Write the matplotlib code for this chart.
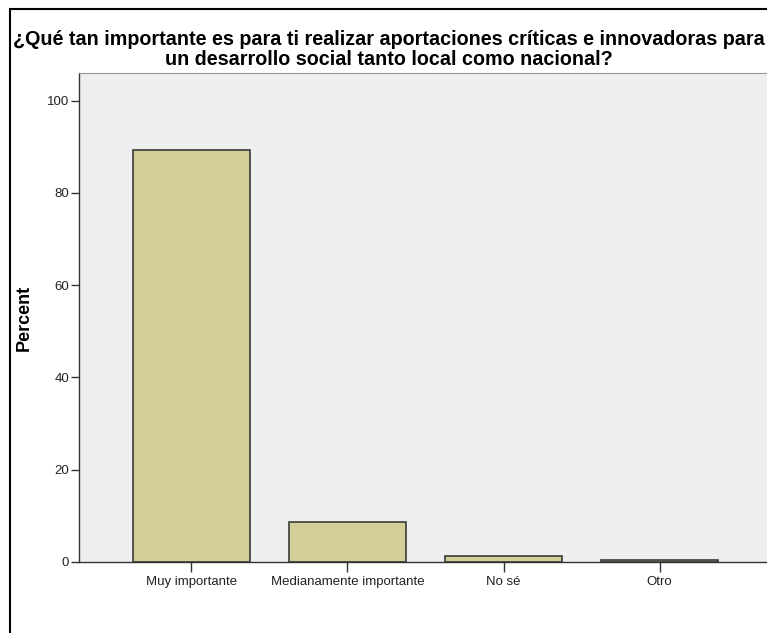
import matplotlib.pyplot as plt
from matplotlib.patches import Rectangle

plt.rcParams['font.family'] = ['Liberation Sans', 'DejaVu Sans']

categorias = ['Muy importante', 'Medianamente importante', 'No sé', 'Otro']
porcentajes = [89.4, 8.7, 1.4, 0.5]
yticks = [0, 20, 40, 60, 80, 100]
titulo = ('¿Qué tan importante es para ti realizar aportaciones críticas e innovadoras para\n'
          'un desarrollo social tanto local como nacional?')

W, H = 767, 633
fig = plt.figure(figsize=(W / 100, H / 100), dpi=100)

# marco exterior (cortado a la derecha y abajo)
fig.patches.append(Rectangle((10 / W, -0.1), 1.2, 1 - 9 / H + 0.1, transform=fig.transFigure,
                             fill=False, edgecolor='black', linewidth=1.5))

ax = fig.add_axes([79 / W, 1 - 562 / H, (772 - 79) / W, (562 - 73) / H])
ax.set_facecolor('#efefef')
x = range(len(categorias))
ax.bar(x, porcentajes, width=0.75, color='#d3ce97', edgecolor='#3a3a3a', linewidth=1.2)

ax.set_xlim(-0.72, 3.72)
ax.set_ylim(0, 106)
ax.set_yticks(yticks)
ax.set_xticks(list(x))
ax.set_xticklabels(categorias, fontsize=9.5)
ax.tick_params(axis='y', labelsize=9.5, length=6, width=1, color='#333333', pad=1,
               labelcolor='#222222')
ax.tick_params(axis='x', length=7, width=1, color='#333333', pad=3, labelcolor='#222222')
for s in ['left', 'bottom']:
    ax.spines[s].set_color('#333333')
    ax.spines[s].set_linewidth(1)
ax.spines['top'].set_color('#999999')
ax.spines['top'].set_linewidth(0.8)
ax.spines['right'].set_visible(False)

ax.set_ylabel('Percent', fontsize=13, fontweight='bold', labelpad=10)
fig.text(0.5 * (10 + 767) / W, 1 - 49.5 / H, titulo, ha='center', va='center',
         fontsize=14.2, fontweight='bold', linespacing=1.06)

fig.savefig('out.png', dpi=100)
